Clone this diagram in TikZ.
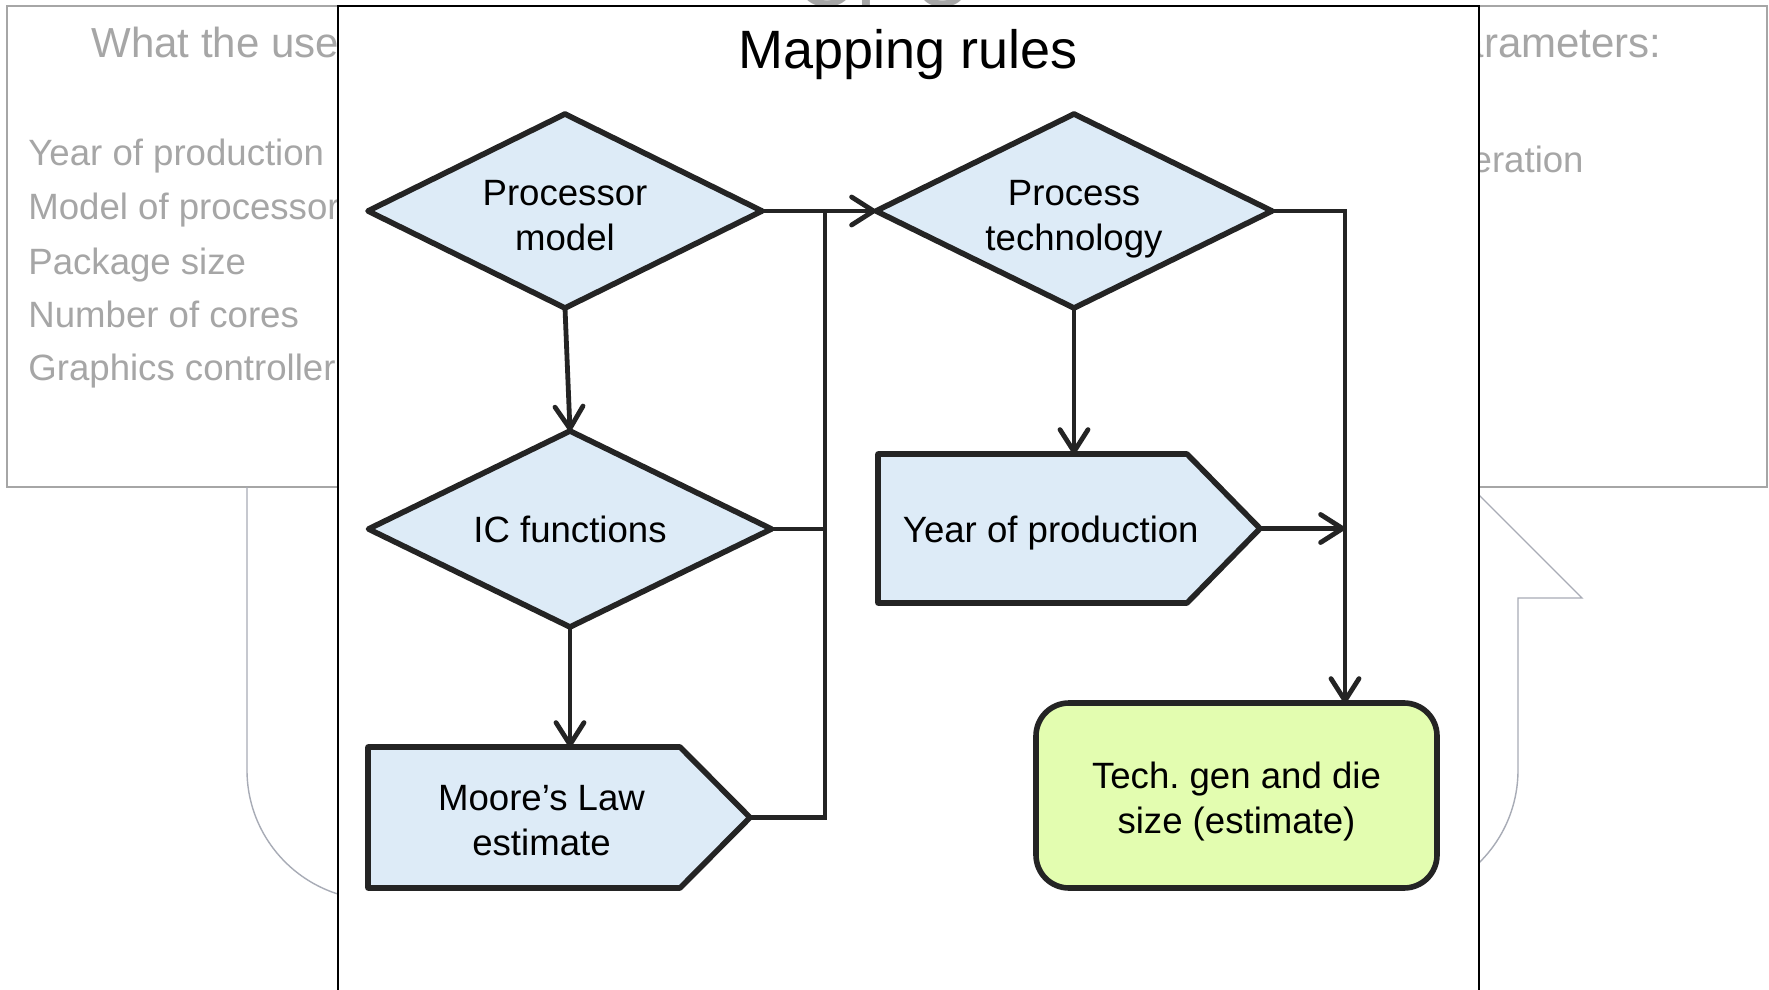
\documentclass[tikz,border=0pt]{standalone}
\usepackage{fontspec}
\setmainfont{Liberation Sans}
\usetikzlibrary{shapes.geometric,arrows.meta}
\definecolor{bluefill}{RGB}{221,235,247}
\definecolor{greenfill}{RGB}{227,253,176}
\definecolor{ink}{RGB}{36,36,36}
\definecolor{ghost}{RGB}{166,166,166}
\definecolor{ghostline}{RGB}{168,172,182}
\tikzset{
  shapeline/.style={draw=ink, line width=2.8pt, line join=round},
  dia/.style={diamond, aspect=2, shapeline, fill=bluefill, inner sep=0pt, outer sep=0pt},
  sigbox/.style={rectangle, inner sep=0pt, outer sep=0pt},
  txt/.style={align=center, font=\fontsize{18.3pt}{22.3pt}\selectfont, inner sep=0pt},
  endbox/.style={rectangle, rounded corners=16.5pt, shapeline, fill=greenfill, inner sep=0pt, outer sep=0pt},
  conn/.style={draw=ink, line width=2.4pt},
  arr/.style={conn, -{Straight Barb[length=11pt,width=14pt,line width=2.4pt,round]}},
  greytxt/.style={text=ghost, inner sep=0pt, font=\fontsize{18.3pt}{22pt}\selectfont},
  greyhead/.style={text=ghost, inner sep=0pt, font=\fontsize{21pt}{25pt}\selectfont},
}
\begin{document}
\frenchspacing
\begin{tikzpicture}[x=0.5pt,y=-0.5pt]
\useasboundingbox (0,0) rectangle (1769,990);
\clip (0,0) rectangle (1769,990);
\fill[white] (0,0) rectangle (1769,990);

% background panels
\draw[ghost, line width=0.8pt] (7,6) rectangle (880,487);
\draw[ghost, line width=0.8pt] (900,6) rectangle (1767,487);
\node[greyhead, anchor=base west] (lh) at (91,58) {What the use};
\node[greytxt, anchor=base west] (l1) at (28,166) {Year of production};
\node[greytxt, anchor=base west] (l2) at (28,220) {Model of processor};
\node[greytxt, anchor=base west] (l3) at (28,274) {Package size};
\node[greytxt, anchor=base west] (l4) at (28,327) {Number of cores};
\node[greytxt, anchor=base west] (l5) at (28,380) {Graphics controller};
\node[greyhead, anchor=base east] (rh) at (1662,58) {arameters:};
\node[greytxt, anchor=base east] (r1) at (1584,173) {eration};
\node[text=ghost, inner sep=0pt, anchor=base west, font=\fontsize{42.5pt}{50pt}\selectfont] (cpu) at (794,7) {CPU};

% big U-turn arrow outline
\draw[ghostline, line width=0.7pt] (247,487) -- (247,770)
  .. controls (247,841.8) and (305.2,900) .. (377,900) -- (1388,900)
  .. controls (1459.8,900) and (1518,841.8) .. (1518,770)
  -- (1518,598) -- (1582,598) -- (1471,487) -- (1360,598) -- (1424,598) -- (1424,806) -- (341,806) -- (341,487);

% main panel
\draw[black, line width=1pt, fill=white] (338,6) rectangle (1479,1000);
\node[anchor=base, inner sep=0pt, font=\fontsize{27pt}{32pt}\selectfont] (title) at (908.5,69) {Mapping rules};

% decision nodes
\node[dia, minimum width=197pt, minimum height=97pt] (pm) at (565,211) {};
\node[txt] (pmt) at ([yshift=-2.25pt]pm.center) {Processor\\model};
\node[dia, minimum width=198pt, minimum height=97pt] (pt) at (1074,211) {};
\node[txt] (ptt) at ([yshift=-4.25pt]pt.center) {Process\\technology};
\node[dia, minimum width=201.5pt, minimum height=98pt] (ic) at (570,529) {};
\node[txt] (ict) at (ic.center) {IC functions};

% pentagon nodes
\node[sigbox, minimum width=191pt, minimum height=70.5pt] (moore) at (559,817.5) {};
\draw[shapeline, fill=bluefill] (moore.north west) -- ([xshift=-35pt]moore.north east) -- (moore.east) -- ([xshift=-35pt]moore.south east) -- (moore.south west) -- cycle;
\node[txt] (mooret) at ([xshift=-8.75pt,yshift=-1.5pt]moore.center) {Moore’s Law\\estimate};

\node[sigbox, minimum width=191pt, minimum height=74.5pt] (yp) at (1069,528.5) {};
\draw[shapeline, fill=bluefill] (yp.north west) -- ([xshift=-36.5pt]yp.north east) -- (yp.east) -- ([xshift=-36.5pt]yp.south east) -- (yp.south west) -- cycle;
\node[txt] (ypt) at ([xshift=-9.1pt,yshift=-2.5pt]yp.center) {Year of production};

% result node
\node[endbox, minimum width=200.5pt, minimum height=92.5pt] (tg) at (1236.5,795.5) {};
\node[txt] (tgt) at ([yshift=-3pt]tg.center) {Tech. gen and die\\size (estimate)};

% junctions
\coordinate (j1) at (825,211);
\coordinate (j2) at (1345,211);

% connectors
\draw[arr] (pm.east) -- (pt.west);
\draw[conn] (moore.east) -| (j1);
\draw[conn] (ic.east) -- (ic.east -| j1);
\draw[arr] (pm.south) -- (ic.north);
\draw[arr] (ic.south) -- (ic.south |- moore.north);
\draw[arr] (pt.south) -- (pt.south |- yp.north);
\draw[arr] (pt.east) -| (tg.north -| j2);
\draw[arr] (yp.east) -- (yp.east -| j2);
\end{tikzpicture}
\end{document}
